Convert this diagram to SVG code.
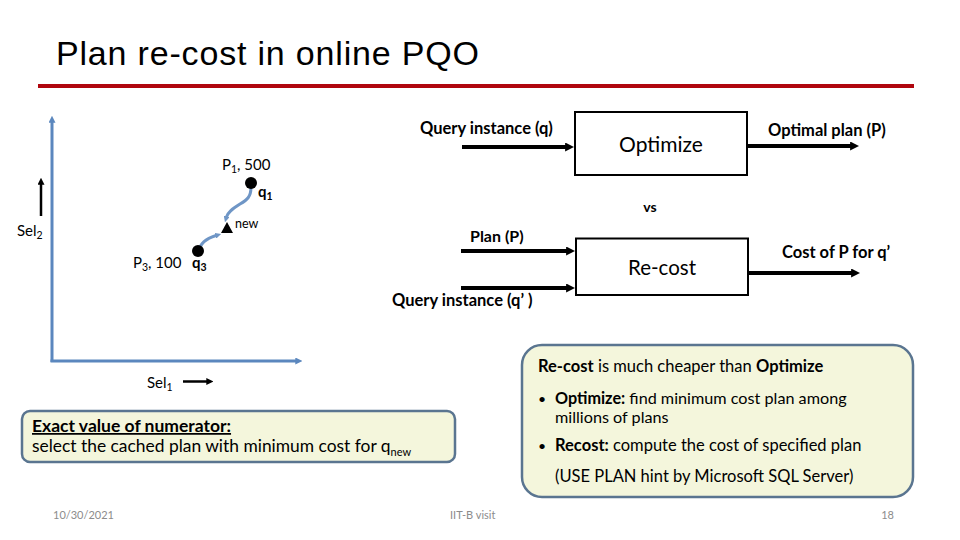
<svg xmlns="http://www.w3.org/2000/svg" width="960" height="540" viewBox="0 0 960 540">
<defs>
<style>
.t{font-family:Lato,"Liberation Sans",sans-serif;fill:#000}
.b{font-weight:bold}
.box{fill:#fff;stroke:#000;stroke-width:2}
.thick{stroke:#000;stroke-width:4;fill:none}
.axis{stroke:#5B87BE;stroke-width:3;fill:none}
.curve{stroke:#6F96C6;stroke-width:3;fill:none}
.call{fill:#F4F6DC;stroke:#5A7590;stroke-width:2.5}
.foot{font-family:Lato,"Liberation Sans",sans-serif;fill:#8C8C8C;font-size:11px}
</style>
<marker id="ah" viewBox="0 0 10 10" refX="1" refY="5" markerWidth="9" markerHeight="9" markerUnits="userSpaceOnUse" orient="auto"><path d="M0,0 L10,5 L0,10 z" fill="#000"/></marker>
<marker id="ahs" viewBox="0 0 10 10" refX="1" refY="5" markerWidth="7" markerHeight="7" markerUnits="userSpaceOnUse" orient="auto"><path d="M0,0 L10,5 L0,10 z" fill="#000"/></marker>
<marker id="ahb" viewBox="0 0 10 10" refX="1" refY="5" markerWidth="7" markerHeight="7" markerUnits="userSpaceOnUse" orient="auto"><path d="M0,0 L10,5 L0,10 z" fill="#5B87BE"/></marker>
<marker id="ahc" viewBox="0 0 10 10" refX="1" refY="5" markerWidth="6" markerHeight="6" markerUnits="userSpaceOnUse" orient="auto"><path d="M0,0 L10,5 L0,10 z" fill="#6F96C6"/></marker>
</defs>
<rect width="960" height="540" fill="#fff"/>

<g id="title">
<text x="56" y="65" font-family="'Liberation Sans',Arial,sans-serif" font-size="34" textLength="423" lengthAdjust="spacing">Plan re-cost in online PQO</text>
<rect x="38" y="84" width="876" height="4" fill="#B0060E"/>
</g>

<g id="connectors">
<line class="thick" x1="462" y1="147" x2="566" y2="147" marker-end="url(#ah)"/>
<line class="thick" x1="747" y1="146" x2="851" y2="146" marker-end="url(#ah)"/>
<line class="thick" x1="461" y1="251" x2="567" y2="251" marker-end="url(#ah)"/>
<line class="thick" x1="461" y1="288" x2="567" y2="288" marker-end="url(#ah)"/>
<line class="thick" x1="748" y1="273" x2="852" y2="273" marker-end="url(#ah)"/>
<path class="axis" d="M52,362 L52,122" marker-end="url(#ahb)"/>
<path class="axis" d="M50.5,361 L296,361" marker-end="url(#ahb)"/>
<line x1="41" y1="216" x2="41" y2="184" stroke="#000" stroke-width="2.5" marker-end="url(#ahs)"/>
<line x1="183" y1="381.5" x2="207" y2="381.5" stroke="#000" stroke-width="2.5" marker-end="url(#ahs)"/>
<path class="curve" d="M251,187 C251,197 247,200 240,204 C232,209 228,212 226.5,217" marker-end="url(#ahc)"/>
<path class="curve" d="M199,251 C200,243 208,238 216,235.5" marker-end="url(#ahc)"/>
</g>

<g id="optimize">
<rect class="box" x="575" y="112" width="172" height="63"/>
<text class="t" x="661" y="152" font-size="21" text-anchor="middle">Optimize</text>
</g>
<g id="recost">
<rect class="box" x="576" y="238.5" width="172" height="56.5"/>
<text class="t" x="662" y="275" font-size="20.5" text-anchor="middle">Re-cost</text>
</g>

<g id="labels">
<text class="t b" x="420" y="134" font-size="16.5">Query instance (q)</text>
<text class="t b" x="768" y="136" font-size="16.5">Optimal plan (P)</text>
<text class="t b" x="650" y="212" font-size="14" text-anchor="middle">vs</text>
<text class="t b" x="470" y="242" font-size="16">Plan (P)</text>
<text class="t b" x="782" y="258" font-size="16.5">Cost of P for q’</text>
<text class="t b" x="392" y="306" font-size="16.5">Query instance (q’ )</text>
</g>

<g id="plot">
<text class="t" x="17" y="236" font-size="15">Sel<tspan font-size="10.5" dy="3">2</tspan></text>
<text class="t" x="147" y="388" font-size="15">Sel<tspan font-size="10.5" dy="3">1</tspan></text>
<g id="q1">
<circle cx="251" cy="183" r="6" fill="#000"/>
<text class="t" x="222" y="170" font-size="15">P<tspan font-size="10.5" dy="3">1</tspan><tspan dy="-3">, 500</tspan></text>
<text class="t b" x="258" y="197" font-size="15">q<tspan font-size="10.5" dy="3">1</tspan></text>
</g>
<g id="qnew">
<path d="M227,222 L233,233 L221,233 z" fill="#000"/>
<text class="t" x="235" y="228" font-size="12.5">new</text>
</g>
<g id="q3">
<circle cx="198" cy="251" r="6" fill="#000"/>
<text class="t" x="133" y="268" font-size="15">P<tspan font-size="10.5" dy="3">3</tspan><tspan dy="-3">, 100</tspan></text>
<text class="t b" x="192" y="268" font-size="15">q<tspan font-size="10.5" dy="3">3</tspan></text>
</g>
</g>

<g id="numerator">
<rect class="call" x="22" y="411" width="433" height="51" rx="8"/>
<text class="t b" x="32" y="432" font-size="17.5" text-decoration="underline">Exact value of numerator:</text>
<text class="t" x="32" y="452" font-size="17.4">select the cached plan with minimum cost for q<tspan font-size="11" dy="4">new</tspan></text>
</g>

<g id="callout">
<rect class="call" x="522" y="345" width="391" height="152" rx="20"/>
<text class="t" x="538" y="372" font-size="16.5"><tspan class="b">Re-cost</tspan> is much cheaper than <tspan class="b">Optimize</tspan></text>
<text class="t" x="538" y="404" font-size="14">•</text>
<text class="t" x="555" y="404" font-size="16.2"><tspan class="b">Optimize:</tspan> find minimum cost plan among</text>
<text class="t" x="555" y="423" font-size="16.2">millions of plans</text>
<text class="t" x="538" y="451" font-size="14">•</text>
<text class="t" x="555" y="451" font-size="16.5"><tspan class="b">Recost:</tspan> compute the cost of specified plan</text>
<text class="t" x="555" y="482" font-size="16.5">(USE PLAN hint by Microsoft SQL Server)</text>
</g>

<g id="footer">
<text class="foot" x="53" y="519">10/30/2021</text>
<text class="foot" x="450" y="519">IIT-B visit</text>
<text class="foot" x="894" y="519" text-anchor="end">18</text>
</g>
</svg>
